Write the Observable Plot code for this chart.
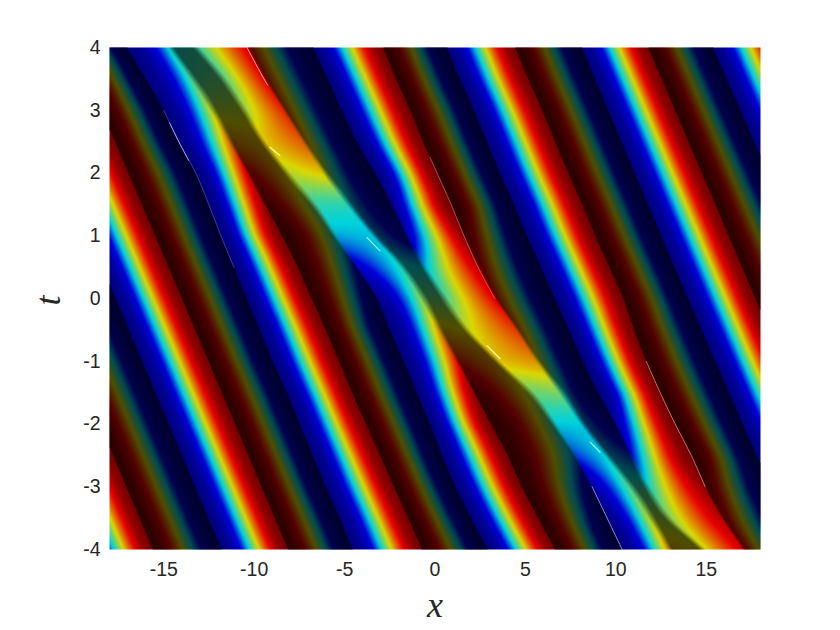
<!DOCTYPE html>
<html>
<head>
<meta charset="utf-8">
<script src="https://cdn.jsdelivr.net/npm/d3@7"></script>
<script src="https://cdn.jsdelivr.net/npm/@observablehq/plot@0.6"></script>
<style>html,body{margin:0;padding:0;background:#fff}svg{display:block}</style>
</head>
<body>
<div id="chart"></div>
<script>
// Stripe edges: x position at each t row.
const tRows = [4,3.5,3,2.5,2,1.5,1,0.5,0,-0.5,-1,-1.5,-2,-2.5,-3,-3.5,-4];
const tEnds = [4,0,-4];

const xTicks = [-15,-10,-5,0,5,10,15];
const tTicks = [-4,-3,-2,-1,0,1,2,3,4];

// Straight stripes far from the soliton
const nA = [-31.10,-25.23,-19.31];
const rA = [-27.39,-21.47,-15.61];
const nB = [-23.57,-17.65,-11.79];
const rB = [-19.92,-14.00,-8.13];
const nG = [8.13,14.00,20.09];
const rG = [11.79,17.71,23.57];
const nH = [15.38,21.42,27.34];
const rH = [19.09,25.01,30.99];

// Stripes bent by the soliton
const nC = [-17.04,-15.99,-15.00,-14.17,-13.23,-12.51,-11.84,-11.12,-10.40,-9.68,-8.97,-8.19,-7.47,-6.75,-6.03,-5.26,-4.54];
const rC = [-14.78,-13.56,-12.45,-11.46,-10.40,-9.41,-8.47,-7.60,-6.83,-6.05,-5.31,-4.59,-3.82,-3.04,-2.27,-1.49,-0.72];
const nD = [-13.00,-11.51,-10.35,-9.35,-7.97,-6.53,-5.37,-4.26,-3.21,-2.49,-1.72,-1.00,-0.28,0.40,1.15,2.00,2.93];
const rD = [-10.40,-9.46,-8.41,-7.36,-6.25,-4.93,-3.49,-1.95,-0.83,0.11,1.16,2.16,3.10,4.00,4.80,5.70,6.64];
const nE = [-6.75,-5.92,-5.15,-4.32,-3.32,-2.38,-1.49,-0.44,0.72,1.94,3.60,5.50,6.75,7.86,8.69,9.52,10.35];
const rE = [-2.88,-2.16,-1.38,-0.66,0.11,0.89,1.60,2.38,3.30,4.45,5.53,6.81,8.02,9.35,10.68,11.79,12.84];
const nF = [0.66,1.38,2.16,2.88,3.60,4.37,5.09,5.87,6.64,7.42,8.19,9.02,10.02,10.96,11.90,13.12,15.00];
const rF = [4.43,5.15,5.92,6.64,7.36,8.13,8.85,9.63,10.40,11.01,11.68,12.45,13.28,14.17,14.94,15.88,17.04];

// Field level on each bent edge at each t row (0 = low end of the colour scale, 1 = high end)
const lowC = [0,0,0,0,0,0,0,0,0,0,0,0,0,0,0,0,0];
const highC = [0.37,0.44,0.56,0.7,0.87,0.97,1,1,1,1,1,1,1,1,1,1,1];
const lowD = [0.44,0.48,0.55,0.62,0.56,0.42,0.33,0.15,0.02,0,0,0,0,0,0,0,0];
const highD = [0.86,0.84,0.8,0.74,0.62,0.42,0.36,0.4,0.5,0.65,0.82,0.97,1,1,1,1,1];
const lowE = [0,0,0,0,0,0.03,0.12,0.35,0.46,0.58,0.62,0.48,0.36,0.25,0.08,0.01,0];
const highE = [1,1,1,1,1,1,0.97,0.9,0.85,0.78,0.68,0.5,0.37,0.37,0.45,0.55,0.66];
const lowF = [0,0,0,0,0,0,0,0,0,0,0,0,0.07,0.22,0.4,0.52,0.6];
const highF = [1,1,1,1,1,1,1,1,1,1,1,1,1,1,0.97,0.92,0.88];

// Colour scale of the field
const levelStops = [0,0.2,0.37,0.6,0.84,1];
const levelColors = ["#000082","#0000dc","#00d2dc","#dcd600","#e80000","#780000"];
const darkShade = 0.64;
const softMax = 0.45;

// Thin white glints along stripe edges
const glintT = {
  a:[3,2.5,2,1.5,1,0.5], a2:[2.8,2.5,2.2], b:[4,3.5,3.4], c:[2.25,2,1.5,1,0.5,0], d:[-1,-1.5,-2,-2.5,-3],
  e:[-3,-3.5,-4], f:[2.41,2.28], g:[-0.75,-0.96], h:[0.97,0.76], i:[-2.29,-2.45]
};
const glintX = {
  a:[-15,-14.17,-13.23,-12.51,-11.84,-11.12], a2:[-14.68,-14.17,-13.63], b:[-10.4,-9.46,-9.25], c:[-0.28,0.11,0.89,1.6,2.38,3.3], d:[11.68,12.45,13.28,14.17,14.94],
  e:[8.69,9.52,10.35], f:[-9.13,-8.58], g:[2.88,3.6], h:[-3.76,-3.04], i:[8.58,9.13]
};
const glintStyle = {
  a:["#a8a8ff",0.7,0.5], a2:["#d8d8ff",0.9,0.8], b:["#ffd0d0",1,0.8], c:["#ffa0a0",0.8,0.6], d:["#ffb0b0",0.9,0.7],
  e:["#d0d0ff",0.9,0.75], f:["#ffffc0",1.2,0.9], g:["#ffffc0",1.2,0.9], h:["#c0ffff",1.1,0.85], i:["#c0ffff",1.1,0.85]
};

// Smooth reading between the t rows
function rowCurve(ts, vs) {
  const h = ts[0] - ts[1], n = vs.length;
  return t => {
    const u = Math.max(0, Math.min(n - 1 - 1e-9, (ts[0] - t) / h));
    const i = Math.floor(u), f = u - i;
    const p1 = vs[i], p2 = vs[i + 1];
    const p0 = i > 0 ? vs[i - 1] : 2 * p1 - p2;
    const p3 = i < n - 2 ? vs[i + 2] : 2 * p2 - p1;
    return 0.5 * (2 * p1 + (p2 - p0) * f + (2 * p0 - 5 * p1 + 4 * p2 - p3) * f * f + (3 * p1 - p0 - 3 * p2 + p3) * f * f * f);
  };
}
const toAngle = l => Math.acos(1 - 2 * l);

// Edges in left-to-right order; even entries open a bright stripe, odd ones close it
const flat0 = tEnds.map(() => 0), flat1 = tEnds.map(() => 1);
const edges = [
  [tEnds,nA,flat0],[tEnds,rA,flat1],[tEnds,nB,flat0],[tEnds,rB,flat1],
  [tRows,nC,lowC],[tRows,rC,highC],[tRows,nD,lowD],[tRows,rD,highD],
  [tRows,nE,lowE],[tRows,rE,highE],[tRows,nF,lowF],[tRows,rF,highF],
  [tEnds,nG,flat0],[tEnds,rG,flat1],[tEnds,nH,flat0],[tEnds,rH,flat1]
].map(([ts,xs,ls]) => ({x: rowCurve(ts, xs), a: rowCurve(ts, ls.map(toAngle))}));

let rowT = null, rowX = null, rowA = null, rowW = null;
function useRow(t) {
  if (t === rowT) return;
  rowT = t;
  rowX = edges.map(e => e.x(t));
  rowA = edges.map(e => Math.max(0, Math.min(Math.PI, e.a(t))));
  rowW = rowA.map(a => softMax * (1 - Math.abs(Math.cos(a))));
}
function span(x) {
  let i = 0;
  while (i < rowX.length - 2 && x >= rowX[i + 1]) i++;
  return i;
}
function level(x, t) {
  useRow(t);
  const i = span(x);
  const f = Math.max(0, Math.min(1, (x - rowX[i]) / (rowX[i + 1] - rowX[i])));
  return (1 - Math.cos(rowA[i] + (rowA[i + 1] - rowA[i]) * f)) / 2;
}
function shade(x, t) {
  useRow(t);
  const i = span(x);
  if (i % 2 === 0) return 0;
  const dl = x - rowX[i], dr = rowX[i + 1] - x;
  const wl = rowW[i], wr = rowW[i + 1];
  const a = wl > 0 ? Math.min(1, dl / wl) : 1;
  const b = wr > 0 ? Math.min(1, dr / wr) : 1;
  return darkShade * Math.min(a, b);
}

const frame = {x1: -18, x2: 18, y1: -4, y2: 4, pixelSize: 1};
const glintMarks = Object.keys(glintT).map(k => Plot.line(
  glintT[k].map((t, i) => ({t, x: glintX[k][i]})),
  {x: "x", y: "t", curve: "catmull-rom", stroke: glintStyle[k][0], strokeWidth: glintStyle[k][1], strokeOpacity: glintStyle[k][2]}
));

const sans = "'Liberation Sans', Arial, sans-serif", serif = "'Liberation Serif', serif";
const chart = Plot.plot({
  width: 840, height: 630,
  marginLeft: 109, marginRight: 80, marginTop: 47, marginBottom: 81,
  style: {background: "#fff", fontFamily: sans, fontSize: "19.5px", color: "#262626"},
  x: {domain: [-18, 18]},
  y: {domain: [-4, 4]},
  color: {type: "linear", domain: levelStops, range: levelColors, interpolate: "rgb", clamp: true},
  opacity: {type: "identity"},
  marks: [
    Plot.raster({...frame, fill: level}),
    Plot.raster({...frame, fill: "black", fillOpacity: shade}),
    ...glintMarks,
    Plot.axisX({ticks: xTicks, tickFormat: d => String(d), tickSize: 0, tickPadding: 13, label: null, fontSize: 19.5}),
    Plot.axisY({ticks: tTicks, tickFormat: d => String(d), tickSize: 0, tickPadding: 9, label: null, fontSize: 19.5}),
    Plot.text(["x"], {frameAnchor: "bottom", dy: 67, fontSize: 36, fontStyle: "italic", fontFamily: serif, fill: "#262626"}),
    Plot.text(["t"], {frameAnchor: "left", dx: -61, dy: 7, rotate: -90, fontSize: 36, fontStyle: "italic", fontFamily: serif, fill: "#262626"})
  ]
});
document.getElementById("chart").appendChild(chart);
</script>
</body>
</html>
